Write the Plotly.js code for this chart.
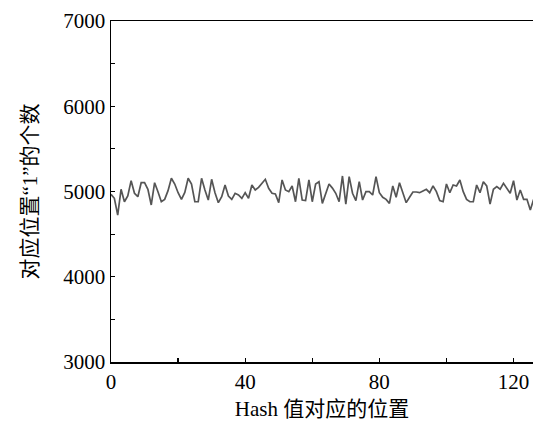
<!DOCTYPE html>
<html>
<head>
<meta charset="utf-8">
<script src="https://cdn.plot.ly/plotly-3.0.1.min.js"></script>
<style>html,body{margin:0;padding:0;background:#fff;}#chart{width:533px;height:421px;}</style>
</head>
<body>
<div id="chart"></div>
<script>
// Counts of "1" per hash position
const counts = [
  4967, 4920, 4724, 5026, 4880, 4947, 5127, 4979, 4939, 5103,
  5103, 5026, 4842, 5103, 4998, 4880, 4908, 5010, 5155, 5088,
  4986, 4908, 4990, 5155, 5088, 4880, 4880, 5155, 5018, 4900,
  5143, 4986, 4869, 4939, 5076, 4947, 4908,
  4979, 4959, 4920, 4986, 4920, 5076, 5018, 5049, 5096, 5143,
  5037, 4979, 4971, 4869, 5135, 5018, 4998, 5065, 4880, 5155,
  4900, 4893, 5135, 4880, 5088, 5115, 4861, 4979, 5088, 5040,
  4979, 4880, 5182, 4853, 5174, 4979, 4893, 5115, 4900, 4998,
  4998, 4959,
  5174, 4986, 4932, 4908, 4861, 5065, 4932, 5103, 4986, 4869,
  4932, 4994, 4994, 4986, 5006, 5026, 4986, 5065, 4998, 4893,
  4880, 5088, 4986, 5076, 5065, 5135, 4998, 4908, 4880, 4880,
  5076, 4986, 5115, 5065, 4853, 5026, 5057, 5026, 5096, 5037,
  4979, 5127, 4900, 5018, 4908, 4908, 4783, 4908
];
const positions = counts.map((_, i) => i);
const xTickVals = [0, 40, 80, 120];
const yTickVals = [3000, 4000, 5000, 6000, 7000];
const xTitle = 'Hash 值对应的位置';
const yTitle = '对应位置“1”的个数';

const fontFam = '"Liberation Serif", "Noto Sans CJK SC", serif';

Plotly.newPlot('chart', [{
  x: positions, y: counts, type: 'scatter', mode: 'lines',
  line: {color: '#555555', width: 1.7}, hoverinfo: 'skip'
}], {
  width: 533, height: 421,
  margin: {l: 111, r: 0, t: 21, b: 59},
  paper_bgcolor: '#fff', plot_bgcolor: '#fff',
  showlegend: false,
  font: {family: fontFam, size: 21, color: '#000'},
  xaxis: {
    range: [0, 125.8], tickvals: xTickVals, ticktext: xTickVals.map(String),
    ticks: 'inside', ticklen: 4, tickwidth: 1.2, tickcolor: '#000',
    minor: {tickvals: [20, 60, 100], ticks: 'inside', ticklen: 4, tickwidth: 1.2, tickcolor: '#000'},
    showline: true, linecolor: '#000', linewidth: 1.5, mirror: true,
    showgrid: false, zeroline: false,
    tickfont: {family: fontFam, size: 21, color: '#000'},
    title: {text: xTitle, font: {family: fontFam, size: 21, color: '#000'}, standoff: 10}
  },
  yaxis: {
    range: [3000, 7000], tickvals: yTickVals, ticktext: yTickVals.map(String),
    ticks: 'inside', ticklen: 4, tickwidth: 1.2, tickcolor: '#000',
    minor: {tickvals: [3500, 4500, 5500, 6500], ticks: 'inside', ticklen: 4, tickwidth: 1.2, tickcolor: '#000'},
    showline: true, linecolor: '#000', linewidth: 1.5, mirror: false,
    showgrid: false, zeroline: false,
    tickfont: {family: fontFam, size: 21, color: '#000'},
    title: {text: yTitle, font: {family: fontFam, size: 21, color: '#000'}, standoff: 20}
  }
}, {staticPlot: true, displayModeBar: false});
</script>
</body>
</html>
